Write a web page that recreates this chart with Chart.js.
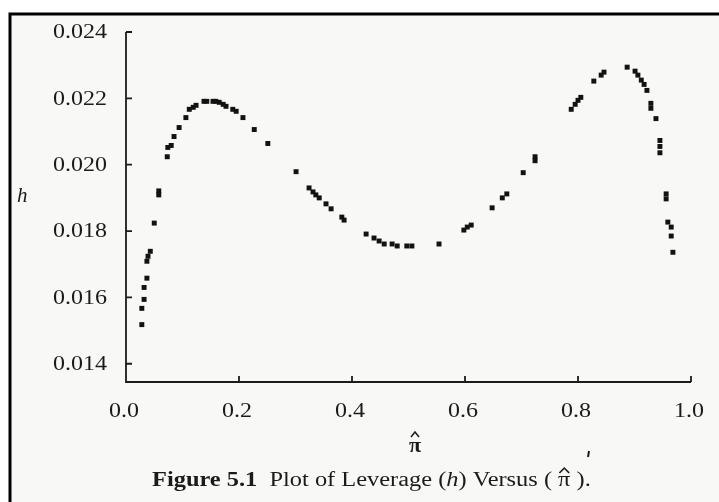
<!DOCTYPE html>
<html>
<head>
<meta charset="utf-8">
<script src="https://cdn.jsdelivr.net/npm/chart.js@4.4.0/dist/chart.umd.min.js"></script>
<style>
  body { margin: 0; background: #fff; }
  #wrap { width: 719px; height: 502px; }
</style>
</head>
<body>
<div id="wrap"><canvas id="leverage" width="719" height="502"></canvas></div>
<script>
// fitted probabilities (pi-hat) and leverage h for each case
const piHat = [
  0.028, 0.028, 0.032, 0.032, 0.037, 0.037, 0.039, 0.043, 0.050, 0.058,
  0.058, 0.073, 0.074, 0.080, 0.085, 0.094, 0.106, 0.112, 0.119, 0.124,
  0.138, 0.143, 0.154, 0.159, 0.165, 0.172, 0.177, 0.189, 0.195, 0.207,
  0.227, 0.251, 0.301, 0.324, 0.331, 0.336, 0.342, 0.354, 0.363, 0.382,
  0.386, 0.425, 0.439, 0.448, 0.457, 0.471, 0.480, 0.497, 0.506, 0.554,
  0.598, 0.604, 0.611, 0.648, 0.666, 0.674, 0.703, 0.724, 0.724, 0.788,
  0.795, 0.800, 0.805, 0.828, 0.841, 0.846, 0.887, 0.901, 0.906, 0.912,
  0.917, 0.922, 0.929, 0.929, 0.938, 0.945, 0.945, 0.945, 0.956, 0.956,
  0.959, 0.965, 0.965, 0.968
];
const leverage = [
  0.01518, 0.01567, 0.01594, 0.01630, 0.01658, 0.01709, 0.01724, 0.01739, 0.01824, 0.01921,
  0.01909, 0.02024, 0.02052, 0.02058, 0.02085, 0.02112, 0.02142, 0.02167, 0.02173, 0.02179,
  0.02191, 0.02191, 0.02191, 0.02191, 0.02188, 0.02182, 0.02176, 0.02167, 0.02161, 0.02142,
  0.02106, 0.02064, 0.01979, 0.01930, 0.01918, 0.01909, 0.01900, 0.01882, 0.01867, 0.01842,
  0.01833, 0.01791, 0.01779, 0.01770, 0.01761, 0.01761, 0.01755, 0.01755, 0.01755, 0.01761,
  0.01803, 0.01812, 0.01818, 0.01870, 0.01900, 0.01912, 0.01976, 0.02024, 0.02012, 0.02167,
  0.02182, 0.02194, 0.02203, 0.02252, 0.02270, 0.02279, 0.02294, 0.02282, 0.02270, 0.02255,
  0.02242, 0.02224, 0.02185, 0.02170, 0.02139, 0.02073, 0.02055, 0.02036, 0.01912, 0.01897,
  0.01827, 0.01812, 0.01785, 0.01736
];
const xTicks = [0.0, 0.2, 0.4, 0.6, 0.8, 1.0];
const yTicks = [0.014, 0.016, 0.018, 0.020, 0.022, 0.024];

const SERIF = '"Liberation Serif", "DejaVu Serif", serif';
const INK = '#1b1b1b';

// text drawn slightly widened, like the book's typeface
function wideText(ctx, txt, x, y, align, sx) {
  ctx.save();
  ctx.translate(x, y);
  ctx.scale(sx, 1);
  ctx.textAlign = align;
  ctx.fillText(txt, 0, 0);
  ctx.restore();
}

function drawHat(ctx, cx, top) {
  ctx.beginPath();
  ctx.moveTo(cx - 4, top + 5);
  ctx.lineTo(cx, top);
  ctx.lineTo(cx + 4, top + 5);
  ctx.stroke();
}

const paper = {
  id: 'paper',
  beforeDraw(chart) {
    const ctx = chart.ctx;
    ctx.save();
    ctx.fillStyle = '#ffffff';
    ctx.fillRect(0, 0, chart.width, chart.height);
    ctx.fillStyle = '#f8f8f6';
    ctx.fillRect(10, 14, chart.width - 10, chart.height - 14);
    ctx.strokeStyle = '#000';
    ctx.lineWidth = 3;
    ctx.beginPath();
    ctx.moveTo(10, chart.height);
    ctx.lineTo(10, 14);
    ctx.lineTo(chart.width, 14);
    ctx.stroke();
    ctx.restore();
  },
  afterDraw(chart) {
    const { ctx, scales: { x, y } } = chart;
    const x0 = x.getPixelForValue(0);
    const y0 = y.bottom;
    ctx.save();
    ctx.strokeStyle = INK;
    ctx.lineWidth = 1.8;
    ctx.beginPath();
    ctx.moveTo(x0, y.getPixelForValue(yTicks[yTicks.length - 1]));
    ctx.lineTo(x0, y0);
    ctx.lineTo(x.getPixelForValue(1), y0);
    // inward tick marks
    yTicks.forEach(v => {
      const py = y.getPixelForValue(v);
      ctx.moveTo(x0, py);
      ctx.lineTo(x0 + 6, py);
    });
    xTicks.slice(1).forEach(v => {
      const px = x.getPixelForValue(v);
      ctx.moveTo(px, y0);
      ctx.lineTo(px, y0 - 6);
    });
    ctx.stroke();

    ctx.fillStyle = INK;

    // tick labels
    ctx.font = '20px ' + SERIF;
    ctx.textBaseline = 'middle';
    y.ticks.forEach(t => {
      wideText(ctx, t.value.toFixed(3), x0 - 19, y.getPixelForValue(t.value) + 1, 'right', 1.2);
    });
    ctx.textBaseline = 'alphabetic';
    x.ticks.forEach(t => {
      wideText(ctx, t.value.toFixed(1), x.getPixelForValue(t.value) - 2, 417, 'center', 1.2);
    });

    // y-axis name
    ctx.font = 'italic 21px ' + SERIF;
    ctx.textAlign = 'left';
    ctx.fillText('h', 17, 202);

    // x-axis name
    ctx.font = 'bold 22px ' + SERIF;
    ctx.textAlign = 'center';
    ctx.fillText('\u03C0', 415, 452);
    ctx.lineWidth = 1.5;
    drawHat(ctx, 415, 432);

    // stray ink mark below the axis
    ctx.lineWidth = 2;
    ctx.beginPath();
    ctx.moveTo(589, 451);
    ctx.lineTo(588, 457);
    ctx.stroke();

    // caption
    const sx = 1.22;
    const base = 486;
    ctx.save();
    ctx.translate(152, base);
    ctx.scale(sx, 1);
    ctx.textAlign = 'left';
    let cx = 0;
    const piece = (txt, font) => {
      ctx.font = font;
      ctx.fillText(txt, cx, 0);
      cx += ctx.measureText(txt).width;
    };
    piece('Figure 5.1', 'bold 20px ' + SERIF);
    piece('  Plot of Leverage (', '20px ' + SERIF);
    piece('h', 'italic 20px ' + SERIF);
    piece(') Versus ( ', '20px ' + SERIF);
    const piStart = cx;
    piece('\u03C0', '20px ' + SERIF);
    ctx.lineWidth = 1.3;
    drawHat(ctx, (piStart + cx) / 2, -18);
    piece(' ).', '20px ' + SERIF);
    ctx.restore();
    ctx.restore();
  }
};

new Chart(document.getElementById('leverage'), {
  type: 'scatter',
  data: {
    datasets: [{
      data: piHat.map((p, i) => ({ x: p, y: leverage[i] })),
      pointStyle: 'rect',
      pointRadius: 3.5,
      pointHoverRadius: 3.5,
      backgroundColor: '#121212',
      borderColor: '#121212',
      borderWidth: 0
    }]
  },
  options: {
    responsive: false,
    animation: false,
    events: [],
    layout: { padding: { top: 32, right: 28, left: 0, bottom: 0 } },
    plugins: { legend: { display: false }, tooltip: { enabled: false } },
    scales: {
      x: {
        type: 'linear',
        min: 0,
        max: 1,
        afterFit: s => { s.height = 120; },
        afterBuildTicks: s => { s.ticks = xTicks.map(v => ({ value: v })); },
        grid: { display: false, drawTicks: false },
        border: { display: false },
        ticks: { display: false }
      },
      y: {
        type: 'linear',
        min: 0.01345,
        max: 0.024,
        afterFit: s => { s.width = 126; },
        afterBuildTicks: s => { s.ticks = yTicks.map(v => ({ value: v })); },
        grid: { display: false, drawTicks: false },
        border: { display: false },
        ticks: { display: false }
      }
    }
  },
  plugins: [paper]
});
</script>
</body>
</html>
